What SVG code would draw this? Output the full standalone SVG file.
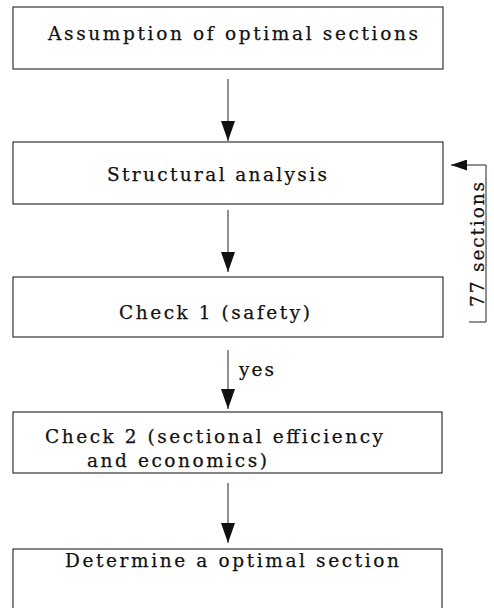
<svg xmlns="http://www.w3.org/2000/svg" width="494" height="608" viewBox="0 0 494 608">
<style>
  .box { fill: #fff; stroke: #222; stroke-width: 1.1; }
  .lbl { font-family: "DejaVu Serif", "Liberation Serif", serif; font-size: 18.5px; fill: #111; stroke: #111; stroke-width: 0.25; }
  .conn { fill: none; stroke: #222; stroke-width: 1; }
</style>
<defs>
  <marker id="ah" viewBox="0 0 20 14" refX="20" refY="7" markerWidth="20" markerHeight="14" markerUnits="userSpaceOnUse" orient="auto">
    <path d="M0,0 L20,7 L0,14 z" fill="#111"/>
  </marker>
  <marker id="ahs" viewBox="0 0 16 11" refX="16" refY="5.5" markerWidth="16" markerHeight="11" markerUnits="userSpaceOnUse" orient="auto">
    <path d="M0,0 L16,5.5 L0,11 z" fill="#111"/>
  </marker>
</defs>
<rect width="494" height="608" fill="#fff"/>
<g id="n1">
  <rect class="box" x="13" y="7" width="430" height="62"/>
  <text class="lbl" x="48" y="40" textLength="370" lengthAdjust="spacing">Assumption of optimal sections</text>
</g>
<g id="n2">
  <rect class="box" x="13" y="142" width="430" height="62"/>
  <text class="lbl" x="107" y="181" textLength="220" lengthAdjust="spacing">Structural analysis</text>
</g>
<g id="n3">
  <rect class="box" x="13" y="277" width="430" height="60"/>
  <text class="lbl" x="119" y="319" textLength="191" lengthAdjust="spacing">Check 1 (safety)</text>
</g>
<g id="n4">
  <rect class="box" x="13" y="412" width="429" height="61"/>
  <text class="lbl" x="45" y="443" textLength="338" lengthAdjust="spacing">Check 2 (sectional efficiency</text>
  <text class="lbl" x="87" y="467" textLength="180" lengthAdjust="spacing">and economics)</text>
</g>
<g id="n5">
  <rect class="box" x="13" y="549" width="429" height="80"/>
  <text class="lbl" x="65" y="567" textLength="334" lengthAdjust="spacing">Determine a optimal section</text>
</g>
<g id="connectors">
  <line class="conn" x1="228" y1="79" x2="228" y2="141" marker-end="url(#ah)"/>
  <line class="conn" x1="228" y1="210" x2="228" y2="272" marker-end="url(#ah)"/>
  <line class="conn" x1="228" y1="350" x2="228" y2="409" marker-end="url(#ah)"/>
  <text class="lbl" x="239" y="376" textLength="35" lengthAdjust="spacing">yes</text>
  <line class="conn" x1="228" y1="483" x2="228" y2="543" marker-end="url(#ah)"/>
  <polyline class="conn" points="469,322 486,322 486,165 451,165" marker-end="url(#ahs)"/>
  <text class="lbl" transform="translate(484,307) rotate(-90)" x="0" y="0" textLength="125" lengthAdjust="spacing">77 sections</text>
</g>
</svg>
